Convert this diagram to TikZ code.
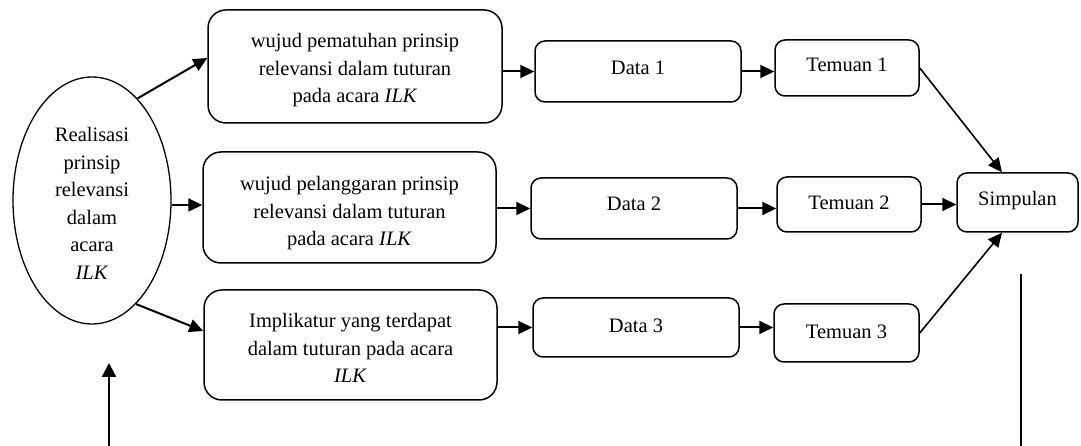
\documentclass[tikz,border=0pt]{standalone}
\usepackage{fontspec}
\setmainfont{Liberation Serif}
\usetikzlibrary{shapes.geometric,arrows.meta,calc}
\tikzset{
  every node/.style={font=\fontsize{20.5}{27.5}\selectfont, align=center, inner sep=0pt},
  every label/.style={font=\fontsize{20.5}{27.5}\selectfont, align=center, inner sep=0pt},
  rbox/.style={draw, line width=1.5pt, rounded corners=18pt, minimum width=#1},
  smallbox/.style={draw, line width=1.5pt, rounded corners=10pt},
  arr/.style={line width=2pt, -{Triangle[length=14pt,width=13pt]}},
  thinarr/.style={line width=1.6pt, -{Triangle[length=14pt,width=13pt]}}
}
\begin{document}
\begin{tikzpicture}[x=1pt,y=1pt]
\useasboundingbox (0,0) rectangle (1081,446);

% source ellipse
\node[ellipse, draw, line width=1.3pt, minimum width=158pt, minimum height=247pt,
  label={[name=ellt, yshift=-3pt]center:{Realisasi\\prinsip\\relevansi\\dalam\\acara\\\textit{ILK}}}]
  (ell) at (92,245.5) {};

% three research focuses
\node[rbox=294pt, minimum height=113pt,
  label={[name=box1t, yshift=-4pt]center:{wujud pematuhan prinsip\\relevansi dalam tuturan\\pada acara \textit{ILK}}}]
  (box1) at (355,379.5) {};
\node[rbox=293pt, minimum height=111pt,
  label={[name=box2t, yshift=-6pt]center:{wujud pelanggaran prinsip\\relevansi dalam tuturan\\pada acara \textit{ILK}}}]
  (box2) at (349.5,238.5) {};
\node[rbox=293pt, minimum height=110pt,
  label={[name=box3t, yshift=-3pt]center:{Implikatur yang terdapat\\dalam tuturan pada acara\\\textit{ILK}}}]
  (box3) at (350.5,101) {};

% data
\node[smallbox, minimum width=206pt, minimum height=61pt,
  label={[name=data1t, yshift=4pt]center:Data 1}] (data1) at (638,374.5) {};
\node[smallbox, minimum width=206pt, minimum height=61pt,
  label={[name=data2t, yshift=5pt]center:Data 2}] (data2) at (634,237.5) {};
\node[smallbox, minimum width=206pt, minimum height=59pt,
  label={[name=data3t, yshift=2pt]center:Data 3}] (data3) at (636,118.5) {};

% findings
\node[smallbox, minimum width=144pt, minimum height=56pt,
  label={[name=tem1t, yshift=3pt]center:Temuan 1}] (tem1) at (847,378) {};
\node[smallbox, minimum width=144pt, minimum height=55pt,
  label={[name=tem2t, yshift=2pt]center:Temuan 2}] (tem2) at (849,241.5) {};
\node[smallbox, minimum width=145pt, minimum height=58pt,
  label={[name=tem3t, yshift=1pt]center:Temuan 3}] (tem3) at (846.5,113) {};

% conclusion
\node[smallbox, minimum width=121pt, minimum height=59pt,
  label={[name=simpt, yshift=2pt]center:Simpulan}] (simp) at (1017.5,243.5) {};

% ellipse to focuses
\draw[arr] (ell.66) -- ($(box1.west)+(0,8.5)$);
\coordinate (e2) at ($(ell.east)+(0,-4.5)$);
\draw[arr] (e2) -- (e2 -| box2.west);
\draw[arr] (ell.-67) -- ($(box3.west)+(0,14)$);

% focuses to data
\draw[arr] (box1.east |- data1) -- (data1.west);
\draw[arr] (box2.east |- data2) -- (data2.west);
\draw[arr] (box3.east |- data3) -- (data3.west);

% data to findings
\draw[arr] (data1.east) -- (data1.east -| tem1.west);
\draw[arr] (data2.east) -- (data2.east -| tem2.west);
\draw[arr] (data3.east) -- (data3.east -| tem3.west);

% findings to conclusion
\draw[thinarr] (tem1.east) -- ($(simp.north)+(-15.5,0)$);
\draw[arr] (tem2.east) -- (tem2.east -| simp.west);
\draw[thinarr] (tem3.east) -- ($(simp.south)+(-15.5,0)$);

% loose lines at the bottom
\coordinate (r1) at (1021,172);
\coordinate (r2) at (1021,0);
\draw[line width=1.5pt] (r1) -- (r2);
\coordinate (u1) at (109,0);
\coordinate (u2) at (109,83);
\draw[line width=2.2pt, -{Triangle[length=14pt,width=14pt]}] (u1) -- (u2);
\end{tikzpicture}
\end{document}
